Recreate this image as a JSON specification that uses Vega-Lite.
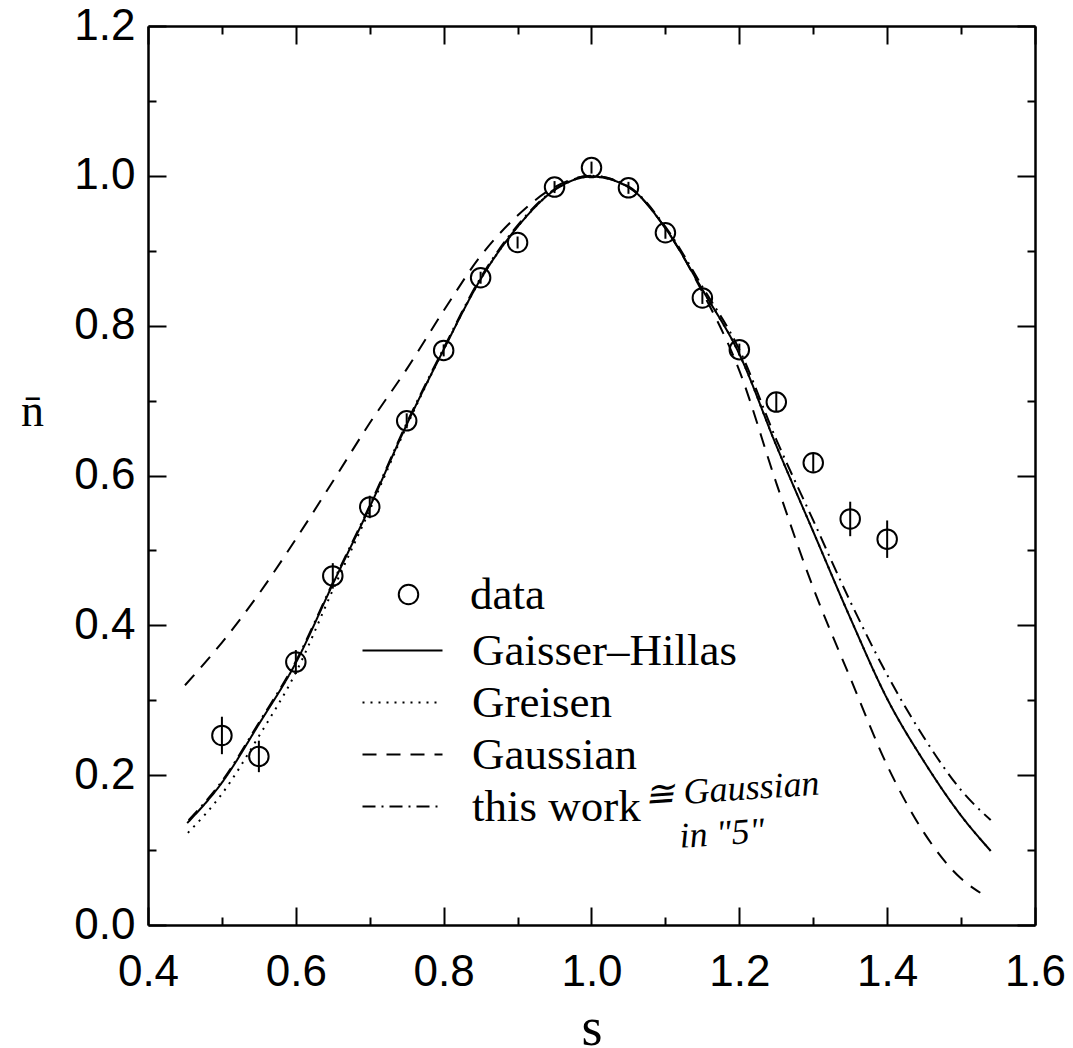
{
  "$schema": "https://vega.github.io/schema/vega-lite/v6.json",
  "width": 887,
  "height": 899,
  "autosize": "none",
  "padding": {"left": 148, "top": 26, "right": 38, "bottom": 123},
  "background": "white",
  "config": {"view": {"stroke": null}, "axis": {"grid": false}},
  "datasets": {
    "points": [
      {"s": 0.50, "n": 0.253, "err": 0.025, "series": "data"},
      {"s": 0.55, "n": 0.225, "err": 0.021, "series": "data"},
      {"s": 0.60, "n": 0.351, "err": 0.016, "series": "data"},
      {"s": 0.65, "n": 0.466, "err": 0.017, "series": "data"},
      {"s": 0.70, "n": 0.558, "err": 0.015, "series": "data"},
      {"s": 0.75, "n": 0.673, "err": 0.010, "series": "data"},
      {"s": 0.80, "n": 0.767, "err": 0.008, "series": "data"},
      {"s": 0.85, "n": 0.864, "err": 0.008, "series": "data"},
      {"s": 0.90, "n": 0.911, "err": 0.008, "series": "data"},
      {"s": 0.95, "n": 0.985, "err": 0.008, "series": "data"},
      {"s": 1.00, "n": 1.011, "err": 0.008, "series": "data"},
      {"s": 1.05, "n": 0.984, "err": 0.008, "series": "data"},
      {"s": 1.10, "n": 0.924, "err": 0.008, "series": "data"},
      {"s": 1.15, "n": 0.837, "err": 0.008, "series": "data"},
      {"s": 1.20, "n": 0.768, "err": 0.008, "series": "data"},
      {"s": 1.25, "n": 0.698, "err": 0.013, "series": "data"},
      {"s": 1.30, "n": 0.617, "err": 0.012, "series": "data"},
      {"s": 1.35, "n": 0.542, "err": 0.023, "series": "data"},
      {"s": 1.40, "n": 0.515, "err": 0.025, "series": "data"}
    ],
    "curves": [
      {"model": "Gaisser–Hillas", "s": 0.453, "n": 0.136},
      {"model": "Gaisser–Hillas", "s": 0.5, "n": 0.19},
      {"model": "Gaisser–Hillas", "s": 0.55, "n": 0.268},
      {"model": "Gaisser–Hillas", "s": 0.6, "n": 0.35},
      {"model": "Gaisser–Hillas", "s": 0.65, "n": 0.455},
      {"model": "Gaisser–Hillas", "s": 0.7, "n": 0.558},
      {"model": "Gaisser–Hillas", "s": 0.75, "n": 0.668},
      {"model": "Gaisser–Hillas", "s": 0.8, "n": 0.768},
      {"model": "Gaisser–Hillas", "s": 0.85, "n": 0.862},
      {"model": "Gaisser–Hillas", "s": 0.9, "n": 0.932},
      {"model": "Gaisser–Hillas", "s": 0.95, "n": 0.981},
      {"model": "Gaisser–Hillas", "s": 1.0, "n": 0.999},
      {"model": "Gaisser–Hillas", "s": 1.05, "n": 0.985},
      {"model": "Gaisser–Hillas", "s": 1.1, "n": 0.93},
      {"model": "Gaisser–Hillas", "s": 1.15, "n": 0.848},
      {"model": "Gaisser–Hillas", "s": 1.2, "n": 0.762},
      {"model": "Gaisser–Hillas", "s": 1.25, "n": 0.64},
      {"model": "Gaisser–Hillas", "s": 1.3, "n": 0.525},
      {"model": "Gaisser–Hillas", "s": 1.35, "n": 0.41},
      {"model": "Gaisser–Hillas", "s": 1.4, "n": 0.302},
      {"model": "Gaisser–Hillas", "s": 1.45, "n": 0.218},
      {"model": "Gaisser–Hillas", "s": 1.5, "n": 0.146},
      {"model": "Gaisser–Hillas", "s": 1.54, "n": 0.099},

      {"model": "Greisen", "s": 0.454, "n": 0.123},
      {"model": "Greisen", "s": 0.5, "n": 0.175},
      {"model": "Greisen", "s": 0.55, "n": 0.252},
      {"model": "Greisen", "s": 0.6, "n": 0.337},
      {"model": "Greisen", "s": 0.65, "n": 0.447},
      {"model": "Greisen", "s": 0.7, "n": 0.554},
      {"model": "Greisen", "s": 0.75, "n": 0.666},
      {"model": "Greisen", "s": 0.8, "n": 0.768},
      {"model": "Greisen", "s": 0.85, "n": 0.862},
      {"model": "Greisen", "s": 0.9, "n": 0.932},
      {"model": "Greisen", "s": 0.95, "n": 0.981},
      {"model": "Greisen", "s": 1.0, "n": 0.999},
      {"model": "Greisen", "s": 1.05, "n": 0.985},
      {"model": "Greisen", "s": 1.1, "n": 0.93},
      {"model": "Greisen", "s": 1.15, "n": 0.848},
      {"model": "Greisen", "s": 1.2, "n": 0.762},
      {"model": "Greisen", "s": 1.25, "n": 0.64},
      {"model": "Greisen", "s": 1.3, "n": 0.525},
      {"model": "Greisen", "s": 1.35, "n": 0.41},
      {"model": "Greisen", "s": 1.4, "n": 0.302},
      {"model": "Greisen", "s": 1.45, "n": 0.218},
      {"model": "Greisen", "s": 1.5, "n": 0.146},
      {"model": "Greisen", "s": 1.54, "n": 0.099},

      {"model": "Gaussian", "s": 0.45, "n": 0.32},
      {"model": "Gaussian", "s": 0.5, "n": 0.377},
      {"model": "Gaussian", "s": 0.55, "n": 0.442},
      {"model": "Gaussian", "s": 0.6, "n": 0.515},
      {"model": "Gaussian", "s": 0.65, "n": 0.592},
      {"model": "Gaussian", "s": 0.7, "n": 0.67},
      {"model": "Gaussian", "s": 0.75, "n": 0.742},
      {"model": "Gaussian", "s": 0.8, "n": 0.82},
      {"model": "Gaussian", "s": 0.85, "n": 0.893},
      {"model": "Gaussian", "s": 0.9, "n": 0.947},
      {"model": "Gaussian", "s": 0.95, "n": 0.985},
      {"model": "Gaussian", "s": 1.0, "n": 1.0},
      {"model": "Gaussian", "s": 1.05, "n": 0.985},
      {"model": "Gaussian", "s": 1.1, "n": 0.93},
      {"model": "Gaussian", "s": 1.15, "n": 0.845},
      {"model": "Gaussian", "s": 1.2, "n": 0.74},
      {"model": "Gaussian", "s": 1.25, "n": 0.59},
      {"model": "Gaussian", "s": 1.3, "n": 0.45},
      {"model": "Gaussian", "s": 1.35, "n": 0.33},
      {"model": "Gaussian", "s": 1.4, "n": 0.213},
      {"model": "Gaussian", "s": 1.45, "n": 0.123},
      {"model": "Gaussian", "s": 1.5, "n": 0.062},
      {"model": "Gaussian", "s": 1.526, "n": 0.043},

      {"model": "this work", "s": 0.455, "n": 0.14},
      {"model": "this work", "s": 0.5, "n": 0.192},
      {"model": "this work", "s": 0.55, "n": 0.27},
      {"model": "this work", "s": 0.6, "n": 0.352},
      {"model": "this work", "s": 0.65, "n": 0.457},
      {"model": "this work", "s": 0.7, "n": 0.56},
      {"model": "this work", "s": 0.75, "n": 0.67},
      {"model": "this work", "s": 0.8, "n": 0.77},
      {"model": "this work", "s": 0.85, "n": 0.864},
      {"model": "this work", "s": 0.9, "n": 0.934},
      {"model": "this work", "s": 0.95, "n": 0.982},
      {"model": "this work", "s": 1.0, "n": 1.0},
      {"model": "this work", "s": 1.05, "n": 0.986},
      {"model": "this work", "s": 1.1, "n": 0.932},
      {"model": "this work", "s": 1.15, "n": 0.852},
      {"model": "this work", "s": 1.2, "n": 0.768},
      {"model": "this work", "s": 1.25, "n": 0.648},
      {"model": "this work", "s": 1.3, "n": 0.54},
      {"model": "this work", "s": 1.35, "n": 0.432},
      {"model": "this work", "s": 1.4, "n": 0.334},
      {"model": "this work", "s": 1.45, "n": 0.25},
      {"model": "this work", "s": 1.5, "n": 0.18},
      {"model": "this work", "s": 1.54, "n": 0.14}
    ]
  },
  "layer": [
    {
      "data": {"name": "curves"},
      "mark": {"type": "line", "color": "black", "strokeWidth": 2, "interpolate": "monotone"},
      "encoding": {
        "x": {"field": "s", "type": "quantitative", "scale": {"domain": [0.4, 1.6], "nice": false, "zero": false},
          "axis": {"orient": "top", "values": [0.4,0.5,0.6,0.7,0.8,0.9,1.0,1.1,1.2,1.3,1.4,1.5,1.6], "labels": false, "title": null,
            "domainColor": "black", "domainWidth": 2.5, "tickColor": "black", "tickWidth": 2,
            "tickSize": {"condition": {"test": "abs(datum.value*5-round(datum.value*5))<0.001", "value": -18}, "value": -8}}},
        "y": {"field": "n", "type": "quantitative", "scale": {"domain": [0, 1.2], "nice": false, "zero": false},
          "axis": {"orient": "right", "values": [0,0.1,0.2,0.3,0.4,0.5,0.6,0.7,0.8,0.9,1.0,1.1,1.2], "labels": false, "title": null,
            "domainColor": "black", "domainWidth": 2.5, "tickColor": "black", "tickWidth": 2,
            "tickSize": {"condition": {"test": "abs(datum.value*5-round(datum.value*5))<0.001", "value": -18}, "value": -8}}},
        "strokeDash": {"field": "model", "type": "nominal", "sort": null,
          "scale": {"domain": ["Gaisser–Hillas", "Greisen", "Gaussian", "this work"], "range": [[1, 0], [2, 6], [14, 10], [13, 6, 2, 6]]},
          "legend": {"orient": "none", "legendX": 232, "legendY": 602, "title": null, "padding": 0,
            "symbolType": "M-4,0H4", "symbolSize": 400, "symbolStrokeWidth": 2, "symbolStrokeColor": "black",
            "labelFont": "Liberation Serif", "labelFontSize": 45, "labelColor": "black", "labelOffset": 47, "rowPadding": 6, "labelLimit": 500}}
      }
    },
    {
      "data": {"name": "points"},
      "mark": {"type": "errorbar", "color": "black", "thickness": 2},
      "encoding": {
        "x": {"field": "s", "type": "quantitative", "scale": {"domain": [0.4, 1.6], "nice": false, "zero": false}, "axis": null},
        "y": {"field": "n", "type": "quantitative", "scale": {"domain": [0, 1.2], "nice": false, "zero": false}, "axis": null},
        "yError": {"field": "err"}
      }
    },
    {
      "data": {"name": "points"},
      "mark": {"type": "point", "filled": false, "stroke": "black", "strokeWidth": 2, "size": 380, "opacity": 1},
      "encoding": {
        "x": {"field": "s", "type": "quantitative", "scale": {"domain": [0.4, 1.6], "nice": false, "zero": false},
          "axis": {"orient": "bottom", "values": [0.4,0.5,0.6,0.7,0.8,0.9,1.0,1.1,1.2,1.3,1.4,1.5,1.6],
            "labelExpr": "abs(datum.value*5-round(datum.value*5))<0.001 ? format(datum.value,'.1f') : ''",
            "labelFont": "Liberation Sans", "labelFontSize": 44, "labelColor": "black", "labelPadding": 43, "labelFlush": false, "labelOverlap": false,
            "domainColor": "black", "domainWidth": 2.5, "tickColor": "black", "tickWidth": 2,
            "tickSize": {"condition": {"test": "abs(datum.value*5-round(datum.value*5))<0.001", "value": -18}, "value": -8},
            "title": "s", "titleFont": "Liberation Serif", "titleFontSize": 54, "titleFontWeight": "normal", "titleColor": "black",
            "titleBaseline": "alphabetic", "titleY": 119}},
        "y": {"field": "n", "type": "quantitative", "scale": {"domain": [0, 1.2], "nice": false, "zero": false},
          "axis": {"orient": "left", "values": [0,0.1,0.2,0.3,0.4,0.5,0.6,0.7,0.8,0.9,1.0,1.1,1.2],
            "labelExpr": "abs(datum.value*5-round(datum.value*5))<0.001 ? format(datum.value,'.1f') : ''",
            "labelFont": "Liberation Sans", "labelFontSize": 44, "labelColor": "black", "labelPadding": 31, "labelFlush": false, "labelOverlap": false,
            "domainColor": "black", "domainWidth": 2.5, "tickColor": "black", "tickWidth": 2,
            "tickSize": {"condition": {"test": "abs(datum.value*5-round(datum.value*5))<0.001", "value": -18}, "value": -8},
            "title": "n̄", "titleFont": "Liberation Serif", "titleFontSize": 46, "titleFontWeight": "normal", "titleColor": "black",
            "titleAngle": 0, "titleAlign": "center", "titleBaseline": "alphabetic", "titleX": -116, "titleY": 399}},
        "shape": {"field": "series", "type": "nominal", "scale": {"range": ["circle"]},
          "legend": {"orient": "none", "legendX": 238, "legendY": 546, "title": null, "padding": 0,
            "symbolSize": 380, "symbolStrokeWidth": 2, "symbolStrokeColor": "black", "symbolFillColor": "transparent",
            "labelFont": "Liberation Serif", "labelFontSize": 45, "labelColor": "black", "labelOffset": 39}}
      }
    },
    {
      "data": {"values": [{}]},
      "mark": {"type": "text", "font": "Liberation Serif", "fontStyle": "italic", "fontSize": 36, "align": "left", "baseline": "alphabetic", "color": "black", "angle": -4},
      "encoding": {
        "x": {"datum": 1.073, "type": "quantitative", "scale": {"domain": [0.4, 1.6], "nice": false, "zero": false}, "axis": null},
        "y": {"datum": 0.158, "type": "quantitative", "scale": {"domain": [0, 1.2], "nice": false, "zero": false}, "axis": null},
        "text": {"value": "≅ Gaussian"}
      }
    },
    {
      "data": {"values": [{}]},
      "mark": {"type": "text", "font": "Liberation Serif", "fontStyle": "italic", "fontSize": 36, "align": "left", "baseline": "alphabetic", "color": "black", "angle": -4},
      "encoding": {
        "x": {"datum": 1.12, "type": "quantitative", "scale": {"domain": [0.4, 1.6], "nice": false, "zero": false}, "axis": null},
        "y": {"datum": 0.103, "type": "quantitative", "scale": {"domain": [0, 1.2], "nice": false, "zero": false}, "axis": null},
        "text": {"value": "in \"5\""}
      }
    }
  ],
  "resolve": {"axis": {"x": "independent", "y": "independent"}}
}
